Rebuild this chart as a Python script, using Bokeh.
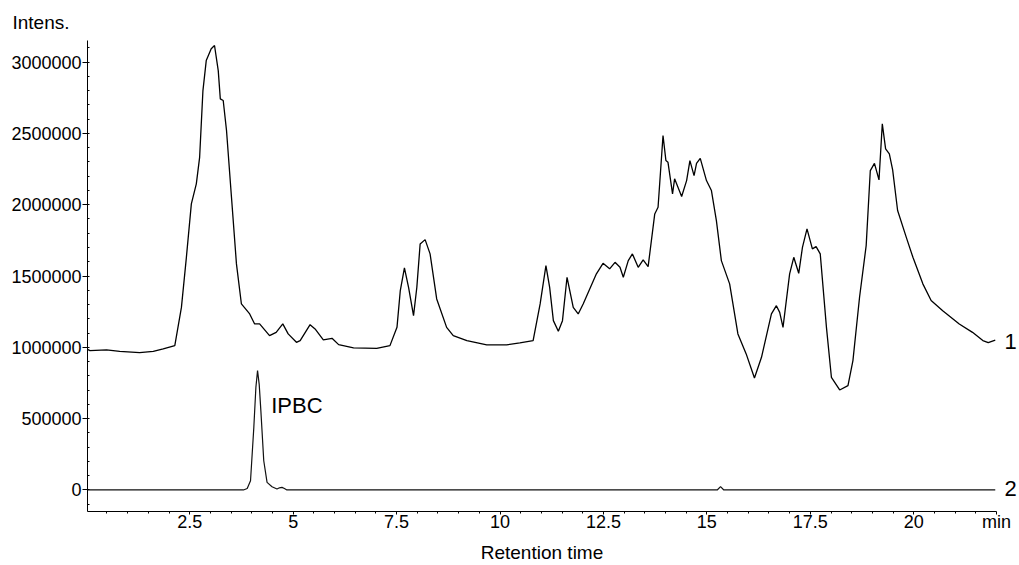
from bokeh.plotting import figure
from bokeh.models import (Label, FixedTicker, CustomJSTickFormatter, Range1d, LinearAxis, Title)
from bokeh.embed import file_html
from bokeh.resources import INLINE

# Trace 1 (sample chromatogram)
t1 = [0.03, 0.09, 0.49, 0.81, 1.29, 1.62, 1.86, 2.14, 2.30, 2.42, 2.54, 2.66, 2.74, 2.82, 2.90,
      3.02, 3.10, 3.19, 3.24, 3.31, 3.39, 3.51, 3.63, 3.75, 3.95, 4.07, 4.19, 4.43, 4.59, 4.75,
      4.88, 5.08, 5.17, 5.41, 5.53, 5.73, 5.94, 6.10, 6.46, 7.02, 7.34, 7.51, 7.59, 7.69, 7.79,
      7.91, 7.99, 8.07, 8.19, 8.31, 8.47, 8.71, 8.87, 9.20, 9.68, 10.16, 10.48, 10.80, 10.97,
      11.11, 11.20, 11.29, 11.41, 11.51, 11.62, 11.77, 11.89, 12.01, 12.33, 12.49, 12.65, 12.78,
      12.90, 12.98, 13.10, 13.20, 13.34, 13.46, 13.58, 13.74, 13.82, 13.94, 14.01, 14.06, 14.17,
      14.22, 14.39, 14.51, 14.59, 14.69, 14.75, 14.84, 14.99, 15.11, 15.23, 15.35, 15.55, 15.75,
      15.95, 16.15, 16.32, 16.56, 16.68, 16.76, 16.84, 17.00, 17.10, 17.22, 17.31, 17.42, 17.55,
      17.64, 17.74, 17.89, 18.01, 18.21, 18.41, 18.53, 18.69, 18.85, 18.95, 19.05, 19.16, 19.24,
      19.32, 19.41, 19.49, 19.61, 19.82, 19.98, 20.22, 20.42, 20.70, 21.10, 21.42, 21.67, 21.80,
      21.97]
v1 = [985000, 977000, 982000, 972000, 963000, 972000, 989000, 1012000, 1280000, 1631000, 2006000,
      2146000, 2332000, 2800000, 3010000, 3093000, 3116000, 2940000, 2742000, 2730000, 2520000,
      2052000, 1585000, 1304000, 1234000, 1164000, 1164000, 1082000, 1105000, 1164000, 1094000,
      1035000, 1047000, 1159000, 1129000, 1052000, 1063000, 1019000, 996000, 993000, 1012000,
      1140000, 1398000, 1557000, 1421000, 1222000, 1421000, 1725000, 1755000, 1655000, 1339000,
      1140000, 1082000, 1047000, 1017000, 1017000, 1031000, 1047000, 1304000, 1573000, 1420000,
      1187000, 1112000, 1187000, 1491000, 1280000, 1234000, 1304000, 1515000, 1589000, 1550000,
      1596000, 1561000, 1491000, 1608000, 1655000, 1561000, 1613000, 1566000, 1935000, 1982000,
      2485000, 2309000, 2297000, 2076000, 2181000, 2057000, 2169000, 2309000, 2204000, 2290000,
      2325000, 2169000, 2099000, 1888000, 1608000, 1445000, 1094000, 954000, 785000, 930000,
      1234000, 1292000, 1245000, 1140000, 1515000, 1631000, 1519000, 1701000, 1830000, 1690000,
      1706000, 1655000, 1140000, 790000, 701000, 731000, 907000, 1351000, 1713000, 2239000,
      2290000, 2174000, 2567000, 2391000, 2356000, 2244000, 1959000, 1771000, 1631000, 1445000,
      1328000, 1257000, 1164000, 1105000, 1047000, 1033000, 1050000]

# Trace 2 (IPBC standard)
t2 = [0.03, 3.80, 3.89, 3.97, 4.05, 4.10, 4.14, 4.18, 4.22, 4.29, 4.37, 4.49, 4.61, 4.67, 4.73,
      4.79, 4.85, 15.25, 15.33, 15.41, 21.97]
v2 = [0, 0, 10000, 65000, 439000, 720000, 837000, 740000, 556000, 205000, 53000, 23000, 7000,
      15000, 18000, 10000, 0, 0, 23000, 0, 0]

x_ticks = [2.5, 5, 7.5, 10, 12.5, 15, 17.5, 20, 22]
x_tick_labels = ["2.5", "5", "7.5", "10", "12.5", "15", "17.5", "20", "min"]
y_ticks = [0, 500000, 1000000, 1500000, 2000000, 2500000, 3000000]
trace_names = ["1", "2"]
trace_label_levels = [1040000, 10000]

FONT = "Liberation Sans"

LOOKUP = """
    for (let i = 0; i < tv.length; i++) {
        if (Math.abs(tv[i] - tick) < 1e-6) { return lbl[i]; }
    }
    return "";
"""

p = figure(width=1019, height=565, output_backend="svg", toolbar_location=None,
           x_range=Range1d(0.03, 22.0), y_range=Range1d(-151000, 3151000),
           min_border_left=87, min_border_right=22, min_border_top=40, min_border_bottom=54)
p.grid.visible = False
p.outline_line_color = None
p.background_fill_color = "white"
p.border_fill_color = "white"

p.line(t1, v1, line_color="black", line_width=1.3)
p.line(t2, v2, line_color="#111111", line_width=1.2)

xa = p.xaxis[0]
xa.ticker = FixedTicker(ticks=x_ticks, minor_ticks=[i * 0.5 for i in range(1, 44)])
xa.formatter = CustomJSTickFormatter(args=dict(tv=x_ticks, lbl=x_tick_labels), code=LOOKUP)
xa.major_tick_out = 3
xa.major_tick_in = 0
xa.minor_tick_out = 2
xa.minor_tick_in = 0
xa.major_label_standoff = -3
xa.major_label_text_font = FONT
xa.major_label_text_font_size = "18px"
xa.major_label_text_color = "black"
xa.axis_line_color = "black"
xa.axis_label = "Retention time"
xa.axis_label_text_font = FONT
xa.axis_label_text_font_size = "19px"
xa.axis_label_text_font_style = "normal"
xa.axis_label_text_color = "black"
xa.axis_label_standoff = 7

ya = p.yaxis[0]
ya.ticker = FixedTicker(ticks=y_ticks, minor_ticks=[i * 100000 for i in range(-1, 32)])
ya.formatter = CustomJSTickFormatter(code="return tick.toString();")
ya.major_tick_out = 5
ya.major_tick_in = 0
ya.minor_tick_out = 0
ya.minor_tick_in = 2
ya.major_label_standoff = 1
ya.major_label_text_font = FONT
ya.major_label_text_font_size = "18px"
ya.major_label_text_color = "black"
ya.axis_line_color = "black"

# right-side trace numbers
ra = LinearAxis(ticker=FixedTicker(ticks=trace_label_levels, minor_ticks=[]),
                formatter=CustomJSTickFormatter(args=dict(tv=trace_label_levels, lbl=trace_names),
                                                code=LOOKUP))
ra.axis_line_color = None
ra.major_tick_line_color = None
ra.minor_tick_line_color = None
ra.major_tick_out = 0
ra.major_tick_in = 0
ra.major_label_standoff = 8
ra.major_label_text_font = FONT
ra.major_label_text_font_size = "22px"
ra.major_label_text_color = "black"
p.add_layout(ra, "right")

p.title = Title(text="Intens.", align="left", offset=-75, text_font=FONT, text_font_size="19px",
                text_font_style="normal", text_color="black", standoff=16)

p.add_layout(Label(x=4.47, y=591000, text="IPBC", text_font=FONT, text_font_size="22px",
                   text_color="black", text_align="left", text_baseline="alphabetic"))

open("out.html", "w").write(file_html(p, INLINE))
